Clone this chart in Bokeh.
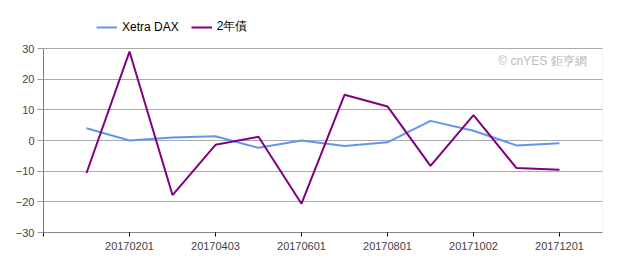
from bokeh.plotting import figure
from bokeh.models import Range1d, FixedTicker, Legend, LegendItem, Label, BoxAnnotation
from bokeh.embed import file_html
from bokeh.resources import INLINE

dates = ["20170103", "20170201", "20170301", "20170403", "20170502", "20170601",
         "20170703", "20170801", "20170901", "20171002", "20171101", "20171201"]
dax = [4.0, 0.0, 1.0, 1.4, -2.4, 0.0, -1.8, -0.6, 6.4, 3.2, -1.6, -0.9]
bond2y = [-10.6, 29.0, -17.8, -1.4, 1.2, -20.6, 14.9, 11.1, -8.3, 8.3, -9.0, -9.5]
y_ticks = [-30, -20, -10, 0, 10, 20, 30]
x_labels = ["20170201", "20170403", "20170601", "20170801", "20171002", "20171201"]

xs = list(range(1, len(dates) + 1))
FONT = "Liberation Sans"

# layout: plot box is 184px tall (y -30..30) with 48px of room above it for the legend
Y_MIN, Y_MAX = y_ticks[0], y_ticks[-1]
box_px, top_px = 184, 48
y_top = Y_MIN + (Y_MAX - Y_MIN) * (box_px + top_px) / box_px
x_max = len(dates) + 1

p = figure(width=622, height=265, output_backend="svg", toolbar_location=None,
           x_range=Range1d(0, x_max), y_range=Range1d(Y_MIN, y_top),
           min_border_left=43, min_border_right=20, min_border_top=0, min_border_bottom=33)
p.background_fill_color = "white"
p.border_fill_color = "white"
p.outline_line_color = None

# plot box outline
p.add_layout(BoxAnnotation(left=0, right=x_max, bottom=Y_MIN, top=Y_MAX,
                           fill_alpha=0, line_color="#aaaaaa", line_width=1, level="underlay"))

r1 = p.line(xs, dax, line_color="#6495ED", line_width=2)
r2 = p.line(xs, bond2y, line_color="#800080", line_width=2)

# x axis
tick_pos = [0] + [xs[dates.index(d)] for d in x_labels]
p.xaxis.ticker = FixedTicker(ticks=tick_pos)
overrides = {0: ""}
for d in x_labels:
    overrides[xs[dates.index(d)]] = d
p.xaxis.major_label_overrides = overrides
p.xaxis.axis_line_color = "#888888"
p.xaxis.major_tick_line_color = "black"
p.xaxis.major_tick_in = 0
p.xaxis.major_tick_out = 4
p.xaxis.minor_tick_line_color = None
p.xaxis.major_label_text_font = FONT
p.xaxis.major_label_text_font_size = "11px"
p.xaxis.major_label_text_color = "#444444"
p.xaxis.major_label_standoff = 5
p.xgrid.grid_line_color = None

# y axis
p.yaxis.ticker = FixedTicker(ticks=y_ticks)
p.yaxis.bounds = (Y_MIN, Y_MAX)
p.yaxis.axis_line_color = "#777777"
p.yaxis.major_tick_line_color = "#999999"
p.yaxis.major_tick_in = 0
p.yaxis.major_tick_out = 6
p.yaxis.minor_tick_line_color = None
p.yaxis.major_label_text_font = FONT
p.yaxis.major_label_text_font_size = "11px"
p.yaxis.major_label_text_color = "#444444"
p.yaxis.major_label_standoff = 3
p.ygrid.grid_line_color = "#aaaaaa"
p.ygrid.grid_line_width = 1
p.ygrid.bounds = (Y_MIN, Y_MAX)

legend = Legend(items=[LegendItem(label="Xetra DAX", renderers=[r1]),
                       LegendItem(label="2年債", renderers=[r2])],
                orientation="horizontal", location=(53, 197),
                label_text_font=FONT, label_text_font_size="12px",
                label_text_color="black", glyph_width=21, glyph_height=12,
                label_standoff=5, spacing=12, padding=0, margin=0,
                border_line_color=None, background_fill_alpha=0)
p.add_layout(legend, "center")

wm = Label(x=543, y=172, x_units="screen", y_units="screen", text="© cnYES 鉅亨網",
           text_font=FONT, text_font_size="12px", text_color="#bbbbbb",
           text_align="right", text_baseline="middle")
p.add_layout(wm)

open("out.html", "w").write(file_html(p, INLINE))
